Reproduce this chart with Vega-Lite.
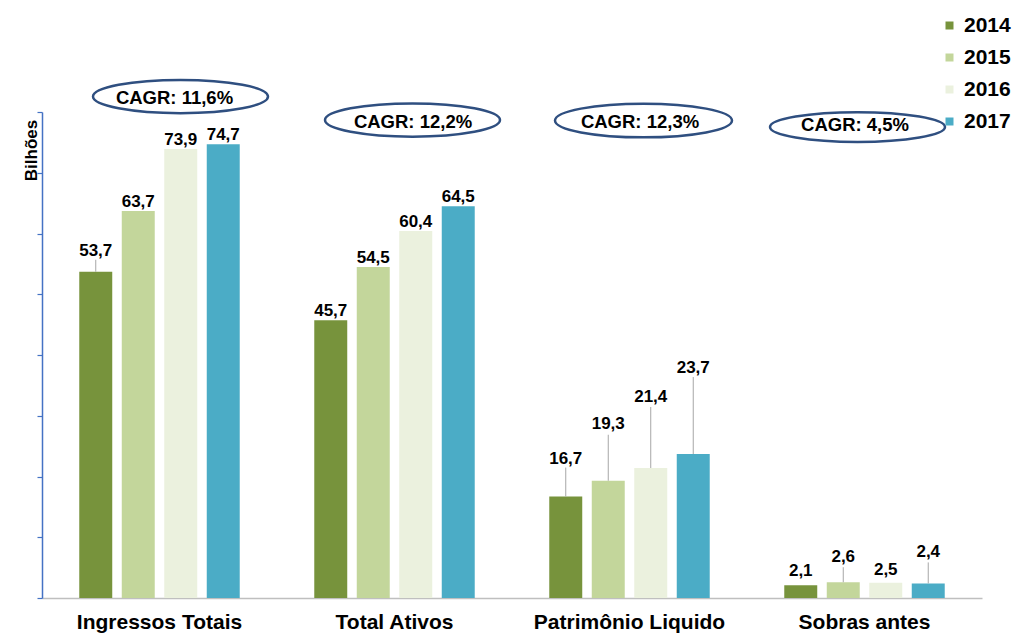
{
  "$schema": "https://vega.github.io/schema/vega-lite/v6.json",
  "width": 940,
  "height": 486,
  "autosize": "none",
  "padding": {"left": 42, "top": 112, "right": 42, "bottom": 40},
  "background": "white",
  "config": {
    "view": {"stroke": null},
    "font": "Liberation Sans",
    "text": {"font": "Liberation Sans", "fontWeight": "bold", "color": "black"}
  },
  "layer": [
    {
      "data": {
        "values": [
          {"cat": "Ingressos Totais", "year": "2014", "value": 53.7},
          {"cat": "Ingressos Totais", "year": "2015", "value": 63.7},
          {"cat": "Ingressos Totais", "year": "2016", "value": 73.9},
          {"cat": "Ingressos Totais", "year": "2017", "value": 74.7},
          {"cat": "Total Ativos", "year": "2014", "value": 45.7},
          {"cat": "Total Ativos", "year": "2015", "value": 54.5},
          {"cat": "Total Ativos", "year": "2016", "value": 60.4},
          {"cat": "Total Ativos", "year": "2017", "value": 64.5},
          {"cat": "Patrimônio Liquido", "year": "2014", "value": 16.7},
          {"cat": "Patrimônio Liquido", "year": "2015", "value": 19.3},
          {"cat": "Patrimônio Liquido", "year": "2016", "value": 21.4},
          {"cat": "Patrimônio Liquido", "year": "2017", "value": 23.7},
          {"cat": "Sobras antes", "year": "2014", "value": 2.1},
          {"cat": "Sobras antes", "year": "2015", "value": 2.6},
          {"cat": "Sobras antes", "year": "2016", "value": 2.5},
          {"cat": "Sobras antes", "year": "2017", "value": 2.4}
        ]
      },
      "transform": [
        {"calculate": "replace(format(datum.value, '.1f'), '.', ',')", "as": "label"},
        {"calculate": "datum.cat + '|' + datum.year", "as": "key"}
      ],
      "encoding": {
        "x": {
          "field": "cat", "type": "nominal",
          "sort": ["Ingressos Totais", "Total Ativos", "Patrimônio Liquido", "Sobras antes"],
          "scale": {"paddingInner": 0, "paddingOuter": 0},
          "axis": {
            "title": null, "labelAngle": 0, "ticks": false, "labelLimit": 0,
            "labelFontSize": 21, "labelFontWeight": "bold", "labelColor": "black",
            "labelFont": "Liberation Sans", "labelPadding": 13,
            "domainColor": "#bfbfbf", "domainWidth": 1.5
          }
        },
        "xOffset": {
          "field": "year", "type": "nominal",
          "scale": {"paddingInner": 0.224, "paddingOuter": 0.877}
        },
        "y": {
          "field": "value", "type": "quantitative",
          "scale": {"domain": [0, 80], "nice": false},
          "axis": {
            "title": "Bilhões", "labels": false, "grid": false,
            "values": [0, 10, 20, 30, 40, 50, 60, 70, 80],
            "domainColor": "#4472C4", "domainWidth": 1.5,
            "tickColor": "#4472C4", "tickSize": 5, "tickWidth": 1.2,
            "titleX": -11, "titleY": 38, "titleAngle": -90,
            "titleAlign": "center", "titleBaseline": "middle",
            "titleFontSize": 17, "titleFontWeight": "bold", "titleColor": "black",
            "titleFont": "Liberation Sans"
          }
        }
      },
      "layer": [
        {
          "mark": {"type": "bar"},
          "encoding": {
            "color": {
              "field": "year", "type": "nominal",
              "scale": {"domain": ["2014", "2015", "2016", "2017"], "range": ["#77933C", "#C3D69B", "#EBF1DE", "#4BACC6"]},
              "legend": {
                "title": null, "orient": "none", "legendX": 897, "legendY": -97,
                "symbolType": "square", "symbolSize": 64, "symbolStrokeWidth": 0, "symbolOpacity": 1,
                "labelFontSize": 21, "labelFontWeight": "bold", "labelColor": "black", "labelLimit": 0,
                "labelFont": "Liberation Sans", "labelOffset": 4, "rowPadding": 10, "padding": 0
              }
            }
          }
        },
        {
          "transform": [{"filter": "indexof(['Ingressos Totais|2014','Patrimônio Liquido|2014','Patrimônio Liquido|2015','Patrimônio Liquido|2016','Patrimônio Liquido|2017','Sobras antes|2014','Sobras antes|2015','Sobras antes|2016','Sobras antes|2017'], datum.key) < 0"}],
          "mark": {"type": "text", "baseline": "alphabetic", "dy": -4, "fontSize": 17},
          "encoding": {"text": {"field": "label"}}
        },
        {
          "transform": [{"filter": "datum.key == 'Ingressos Totais|2014'"}],
          "layer": [
            {"mark": {"type": "rule", "color": "#a6a6a6", "strokeWidth": 1, "y2Offset": -12}, "encoding": {"y2": {"field": "value"}}},
            {"mark": {"type": "text", "baseline": "alphabetic", "dy": -16, "fontSize": 17}, "encoding": {"text": {"field": "label"}}}
          ]
        },
        {
          "transform": [{"filter": "datum.key == 'Patrimônio Liquido|2014'"}],
          "layer": [
            {"mark": {"type": "rule", "color": "#a6a6a6", "strokeWidth": 1, "y2Offset": -29}, "encoding": {"y2": {"field": "value"}}},
            {"mark": {"type": "text", "baseline": "alphabetic", "dy": -33, "fontSize": 17}, "encoding": {"text": {"field": "label"}}}
          ]
        },
        {
          "transform": [{"filter": "datum.key == 'Patrimônio Liquido|2015'"}],
          "layer": [
            {"mark": {"type": "rule", "color": "#a6a6a6", "strokeWidth": 1, "y2Offset": -46}, "encoding": {"y2": {"field": "value"}}},
            {"mark": {"type": "text", "baseline": "alphabetic", "dy": -52, "fontSize": 17}, "encoding": {"text": {"field": "label"}}}
          ]
        },
        {
          "transform": [{"filter": "datum.key == 'Patrimônio Liquido|2016'"}],
          "layer": [
            {"mark": {"type": "rule", "color": "#a6a6a6", "strokeWidth": 1, "y2Offset": -61}, "encoding": {"y2": {"field": "value"}}},
            {"mark": {"type": "text", "baseline": "alphabetic", "dy": -65.5, "fontSize": 17}, "encoding": {"text": {"field": "label"}}}
          ]
        },
        {
          "transform": [{"filter": "datum.key == 'Patrimônio Liquido|2017'"}],
          "layer": [
            {"mark": {"type": "rule", "color": "#a6a6a6", "strokeWidth": 1, "y2Offset": -77}, "encoding": {"y2": {"field": "value"}}},
            {"mark": {"type": "text", "baseline": "alphabetic", "dy": -81.5, "fontSize": 17}, "encoding": {"text": {"field": "label"}}}
          ]
        },
        {
          "transform": [{"filter": "datum.key == 'Sobras antes|2014'"}],
          "mark": {"type": "text", "baseline": "alphabetic", "dy": -9.5, "fontSize": 17},
          "encoding": {"text": {"field": "label"}}
        },
        {
          "transform": [{"filter": "datum.key == 'Sobras antes|2015'"}],
          "layer": [
            {"mark": {"type": "rule", "color": "#a6a6a6", "strokeWidth": 1, "y2Offset": -15}, "encoding": {"y2": {"field": "value"}}},
            {"mark": {"type": "text", "baseline": "alphabetic", "dy": -20.5, "fontSize": 17}, "encoding": {"text": {"field": "label"}}}
          ]
        },
        {
          "transform": [{"filter": "datum.key == 'Sobras antes|2016'"}],
          "mark": {"type": "text", "baseline": "alphabetic", "dy": -7.5, "fontSize": 17},
          "encoding": {"text": {"field": "label"}}
        },
        {
          "transform": [{"filter": "datum.key == 'Sobras antes|2017'"}],
          "layer": [
            {"mark": {"type": "rule", "color": "#a6a6a6", "strokeWidth": 1, "y2Offset": -21}, "encoding": {"y2": {"field": "value"}}},
            {"mark": {"type": "text", "baseline": "alphabetic", "dy": -26, "fontSize": 17}, "encoding": {"text": {"field": "label"}}}
          ]
        }
      ]
    },
    {
      "data": {
        "values": [
          {"cat": "Ingressos Totais", "cagr": "CAGR: 11,6%"},
          {"cat": "Total Ativos", "cagr": "CAGR: 12,2%"},
          {"cat": "Patrimônio Liquido", "cagr": "CAGR: 12,3%"},
          {"cat": "Sobras antes", "cagr": "CAGR: 4,5%"}
        ]
      },
      "encoding": {
        "x": {
          "field": "cat", "type": "nominal",
          "sort": ["Ingressos Totais", "Total Ativos", "Patrimônio Liquido", "Sobras antes"]
        }
      },
      "layer": [
        {
          "transform": [{"filter": "datum.cat == 'Ingressos Totais'"}],
          "layer": [
            {"mark": {"type": "point", "shape": "M -1 0 C -1 -0.105 -0.552 -0.19 0 -0.19 C 0.552 -0.19 1 -0.105 1 0 C 1 0.105 0.552 0.19 0 0.19 C -0.552 0.19 -1 0.105 -1 0 Z", "size": 30625, "filled": false, "stroke": "#2F4F80", "strokeWidth": 2.5, "opacity": 1, "xOffset": 21}, "encoding": {"y": {"datum": 82.55, "type": "quantitative"}}},
            {"mark": {"type": "text", "baseline": "middle", "fontSize": 18.5, "xOffset": 15}, "encoding": {"y": {"datum": 82.3, "type": "quantitative"}, "text": {"field": "cagr"}}}
          ]
        },
        {
          "transform": [{"filter": "datum.cat == 'Total Ativos'"}],
          "layer": [
            {"mark": {"type": "point", "shape": "M -1 0 C -1 -0.105 -0.552 -0.19 0 -0.19 C 0.552 -0.19 1 -0.105 1 0 C 1 0.105 0.552 0.19 0 0.19 C -0.552 0.19 -1 0.105 -1 0 Z", "size": 30625, "filled": false, "stroke": "#2F4F80", "strokeWidth": 2.5, "opacity": 1, "xOffset": 18}, "encoding": {"y": {"datum": 78.68, "type": "quantitative"}}},
            {"mark": {"type": "text", "baseline": "middle", "fontSize": 18.5, "xOffset": 18.5}, "encoding": {"y": {"datum": 78.35, "type": "quantitative"}, "text": {"field": "cagr"}}}
          ]
        },
        {
          "transform": [{"filter": "datum.cat == 'Patrimônio Liquido'"}],
          "layer": [
            {"mark": {"type": "point", "shape": "M -1 0 C -1 -0.105 -0.552 -0.19 0 -0.19 C 0.552 -0.19 1 -0.105 1 0 C 1 0.105 0.552 0.19 0 0.19 C -0.552 0.19 -1 0.105 -1 0 Z", "size": 31329, "filled": false, "stroke": "#2F4F80", "strokeWidth": 2.5, "opacity": 1, "xOffset": 14}, "encoding": {"y": {"datum": 78.6, "type": "quantitative"}}},
            {"mark": {"type": "text", "baseline": "middle", "fontSize": 18.5, "xOffset": 10.5}, "encoding": {"y": {"datum": 78.35, "type": "quantitative"}, "text": {"field": "cagr"}}}
          ]
        },
        {
          "transform": [{"filter": "datum.cat == 'Sobras antes'"}],
          "layer": [
            {"mark": {"type": "point", "shape": "M -1 0 C -1 -0.092 -0.552 -0.17 0 -0.17 C 0.552 -0.17 1 -0.092 1 0 C 1 0.092 0.552 0.17 0 0.17 C -0.552 0.17 -1 0.092 -1 0 Z", "size": 30625, "filled": false, "stroke": "#2F4F80", "strokeWidth": 2.5, "opacity": 1, "xOffset": -7}, "encoding": {"y": {"datum": 77.53, "type": "quantitative"}}},
            {"mark": {"type": "text", "baseline": "middle", "fontSize": 18.5, "xOffset": -9.5}, "encoding": {"y": {"datum": 77.86, "type": "quantitative"}, "text": {"field": "cagr"}}}
          ]
        }
      ]
    }
  ]
}
